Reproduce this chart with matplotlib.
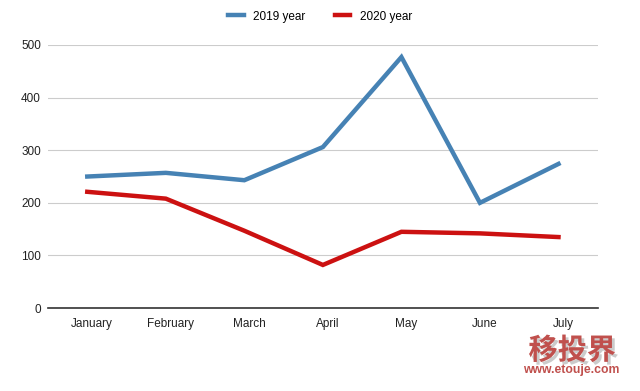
import matplotlib.pyplot as plt
import matplotlib.patheffects as pe
from matplotlib.transforms import ScaledTranslation

months = ['January', 'February', 'March', 'April', 'May', 'June', 'July']
y2019 = [250, 257, 243, 306, 477, 200, 274]
y2020 = [221, 208, 147, 82, 145, 142, 135]

plt.rcParams['font.family'] = ['Liberation Sans', 'DejaVu Sans']

fig = plt.figure(figsize=(6.4, 3.91), dpi=100)
ax = fig.add_axes([0.075, 0.212, 0.859, 0.673])

x = range(len(months))
ax.plot(x, y2019, color='#4682b4', lw=3.2, label='2019 year', solid_joinstyle='miter')
ax.plot(x, y2020, color='#cc1111', lw=3.2, label='2020 year', solid_joinstyle='miter')

ax.set_xlim(-0.5, len(months) - 0.5)
ax.set_ylim(0, 500)
ax.set_yticks([0, 100, 200, 300, 400, 500])
ax.set_xticks(list(x))
ax.set_xticklabels(months)
ax.grid(axis='y', color='#cccccc', lw=0.8)
ax.set_axisbelow(True)
for s in ['top', 'right', 'left']:
    ax.spines[s].set_visible(False)
ax.spines['bottom'].set_color('#333333')
ax.spines['bottom'].set_linewidth(1.2)
ax.tick_params(axis='both', length=0, labelsize=8.5, colors='#222222')
ax.tick_params(axis='y', pad=5)
ax.tick_params(axis='x', pad=7)
# labels sit slightly right of the data points in the original
off = ScaledTranslation(0.05, 0, fig.dpi_scale_trans)
for lab in ax.get_xticklabels():
    lab.set_transform(lab.get_transform() + off)

fig.legend(loc='upper center', bbox_to_anchor=(0.5, 1.0), ncol=2, frameon=False,
           fontsize=8.5, handlelength=1.3, columnspacing=2.5)

# watermark
fig.text(0.894, 0.104, '移投界', ha='center', va='center', fontsize=21, fontweight='bold',
         color='#c0504d', family=['Noto Sans CJK SC'],
         path_effects=[pe.withSimplePatchShadow(offset=(2, -2), shadow_rgbFace='#999999', alpha=0.5)])
fig.text(0.892, 0.054, 'www.etouje.com', ha='center', va='center', fontsize=8.8,
         fontweight='bold', color='#c0504d')

fig.savefig('out.png', dpi=100)
